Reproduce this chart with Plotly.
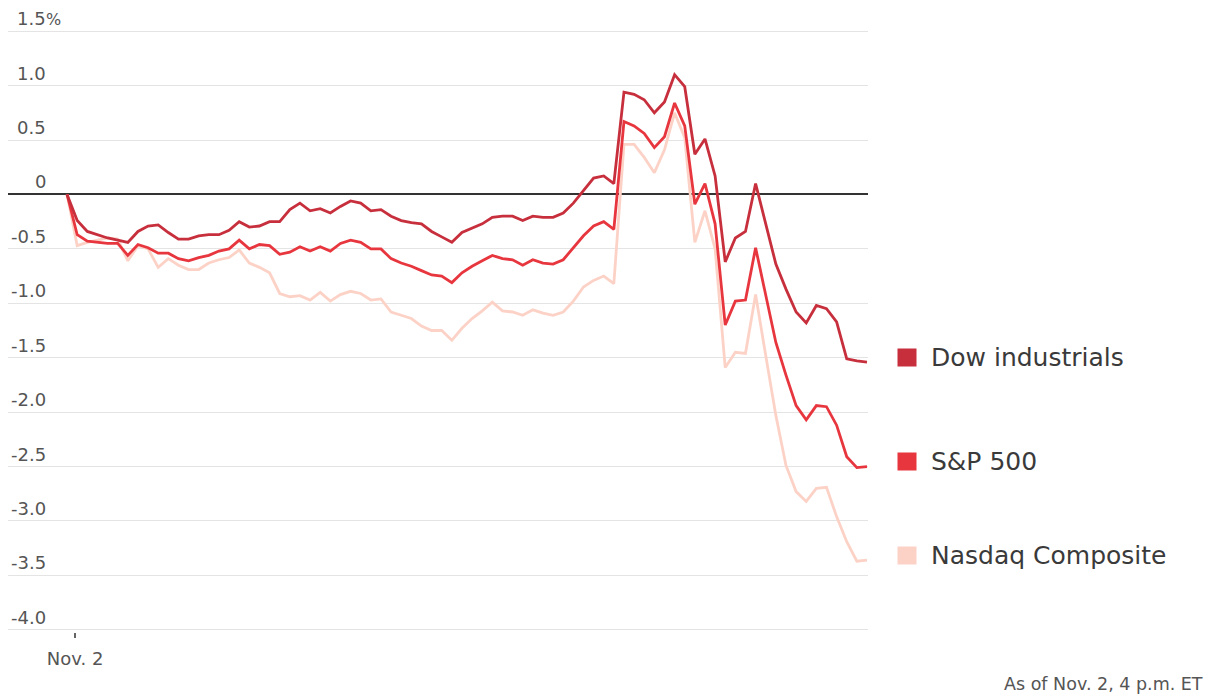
import pandas as pd
import plotly.graph_objects as go

# 5-minute intraday points, Nov. 2 (first point = prior close reference)
times = pd.date_range("2023-11-02 09:25", "2023-11-02 16:00", freq="5min")

dow = [0, -0.24, -0.34, -0.37, -0.40, -0.42, -0.44, -0.34, -0.29, -0.28,
       -0.35, -0.41, -0.41, -0.38, -0.37, -0.37, -0.33, -0.25, -0.30, -0.29,
       -0.25, -0.25, -0.14, -0.08, -0.15, -0.13, -0.17, -0.11, -0.06, -0.08,
       -0.15, -0.14, -0.20, -0.24, -0.26, -0.27, -0.34, -0.39, -0.44, -0.35,
       -0.31, -0.27, -0.21, -0.20, -0.20, -0.24, -0.20, -0.21, -0.21, -0.17,
       -0.08, 0.03, 0.15, 0.17, 0.10, 0.94, 0.92, 0.87, 0.75, 0.85,
       1.10, 0.99, 0.37, 0.51, 0.17, -0.62, -0.40, -0.34, 0.10, -0.27,
       -0.64, -0.87, -1.08, -1.18, -1.02, -1.05, -1.17, -1.51, -1.53, -1.54]

sp500 = [0, -0.37, -0.43, -0.44, -0.45, -0.45, -0.56, -0.46, -0.49, -0.54,
         -0.54, -0.59, -0.61, -0.58, -0.56, -0.52, -0.50, -0.42, -0.50, -0.46,
         -0.47, -0.55, -0.53, -0.48, -0.52, -0.48, -0.52, -0.45, -0.42, -0.44,
         -0.50, -0.50, -0.59, -0.63, -0.66, -0.70, -0.74, -0.75, -0.81, -0.72,
         -0.66, -0.61, -0.56, -0.59, -0.60, -0.65, -0.60, -0.63, -0.64, -0.60,
         -0.49, -0.38, -0.29, -0.25, -0.32, 0.67, 0.63, 0.56, 0.43, 0.53,
         0.84, 0.63, -0.09, 0.10, -0.27, -1.20, -0.98, -0.97, -0.49, -0.93,
         -1.36, -1.66, -1.94, -2.07, -1.94, -1.95, -2.12, -2.41, -2.51, -2.50]

nasdaq = [0, -0.47, -0.44, -0.42, -0.40, -0.41, -0.61, -0.47, -0.50, -0.67,
          -0.59, -0.65, -0.69, -0.69, -0.63, -0.60, -0.58, -0.51, -0.63, -0.67,
          -0.72, -0.91, -0.94, -0.93, -0.97, -0.90, -0.98, -0.92, -0.89, -0.91,
          -0.97, -0.96, -1.08, -1.11, -1.14, -1.21, -1.25, -1.25, -1.34, -1.23,
          -1.14, -1.07, -0.99, -1.07, -1.08, -1.11, -1.06, -1.09, -1.11, -1.08,
          -0.98, -0.85, -0.79, -0.75, -0.82, 0.46, 0.46, 0.34, 0.20, 0.41,
          0.75, 0.52, -0.44, -0.15, -0.50, -1.59, -1.45, -1.46, -0.92, -1.48,
          -2.03, -2.49, -2.73, -2.82, -2.70, -2.69, -2.96, -3.19, -3.37, -3.36]

series_names = ["Dow industrials", "S&P 500", "Nasdaq Composite"]
series_colors = ["#c72f3c", "#e8363f", "#fcd2c7"]

ytick_vals = [1.5, 1.0, 0.5, 0, -0.5, -1.0, -1.5, -2.0, -2.5, -3.0, -3.5, -4.0]
ytick_text = ["1.5", "1.0", "0.5", "0", "-0.5", "-1.0", "-1.5", "-2.0", "-2.5", "-3.0", "-3.5", "-4.0"]

xtick_vals = ["2023-11-02 09:29"]
xtick_text = ["Nov. 2"]

FONT = "DejaVu Sans"
GREY = "#555555"

fig = go.Figure()
for name, vals, col in reversed(list(zip(series_names, [dow, sp500, nasdaq], series_colors))):
    fig.add_trace(go.Scatter(x=times, y=vals, mode="lines", name=name,
                             line=dict(color=col, width=2.8), showlegend=False))

# Plot area: x from 8px to 868px
L, R = 8, 868
W = R - L
T, B = 29, 632

def px_to_paper(px):
    return (px - L) / W

annotations = []
for v, t in zip(ytick_vals, ytick_text):
    annotations.append(dict(x=px_to_paper(48), y=v, xref="paper", yref="y", text=t,
                            showarrow=False, xanchor="right", yanchor="bottom", yshift=0,
                            font=dict(family=FONT, size=18, color=GREY)))
annotations.append(dict(x=px_to_paper(44), y=ytick_vals[0], xref="paper", yref="y", text="%",
                        showarrow=False, xanchor="left", yanchor="bottom", yshift=0,
                        font=dict(family=FONT, size=16, color=GREY)))

# end-of-line labels
for name, vals, col in zip(series_names, [dow, sp500, nasdaq], series_colors):
    annotations.append(dict(x=px_to_paper(897), y=vals[-1], xref="paper", yref="y", text=" ",
                            showarrow=False, xanchor="left", yanchor="middle",
                            width=14, height=13, bgcolor=col, borderpad=2, yshift=5))
    annotations.append(dict(x=px_to_paper(929), y=vals[-1], xref="paper", yref="y", text=name,
                            showarrow=False, xanchor="left", yanchor="middle", yshift=5,
                            font=dict(family=FONT, size=25, color="#3a3a3a")))

annotations.append(dict(x=px_to_paper(1205), y=-(684 - B) / (B - T), xref="paper", yref="paper",
                        text="As of Nov. 2, 4 p.m. ET", showarrow=False,
                        xanchor="right", yanchor="middle",
                        font=dict(family=FONT, size=17.5, color=GREY)))

fig.update_layout(
    width=1210, height=696,
    margin=dict(l=L, r=1210 - R, t=T, b=696 - B),
    paper_bgcolor="white", plot_bgcolor="white",
    font=dict(family=FONT, size=17, color=GREY),
    annotations=annotations,
)

fig.update_yaxes(range=[-4.02, 1.52], tickvals=ytick_vals, showticklabels=False,
                 showgrid=True, gridcolor="#e4e4e4", gridwidth=1,
                 zeroline=True, zerolinecolor="#333333", zerolinewidth=1.6,
                 showline=False, ticks="")
fig.update_xaxes(type="date",
                 range=["2023-11-02 08:55:50", "2023-11-02 16:00:30"],
                 tickvals=xtick_vals, ticktext=xtick_text,
                 ticks="outside", ticklen=5, tickwidth=2, tickcolor="#666666",
                 ticklabelstandoff=5,
                 showgrid=False, zeroline=False, showline=False,
                 tickfont=dict(family=FONT, size=18, color=GREY))

fig.write_html("out.html")
